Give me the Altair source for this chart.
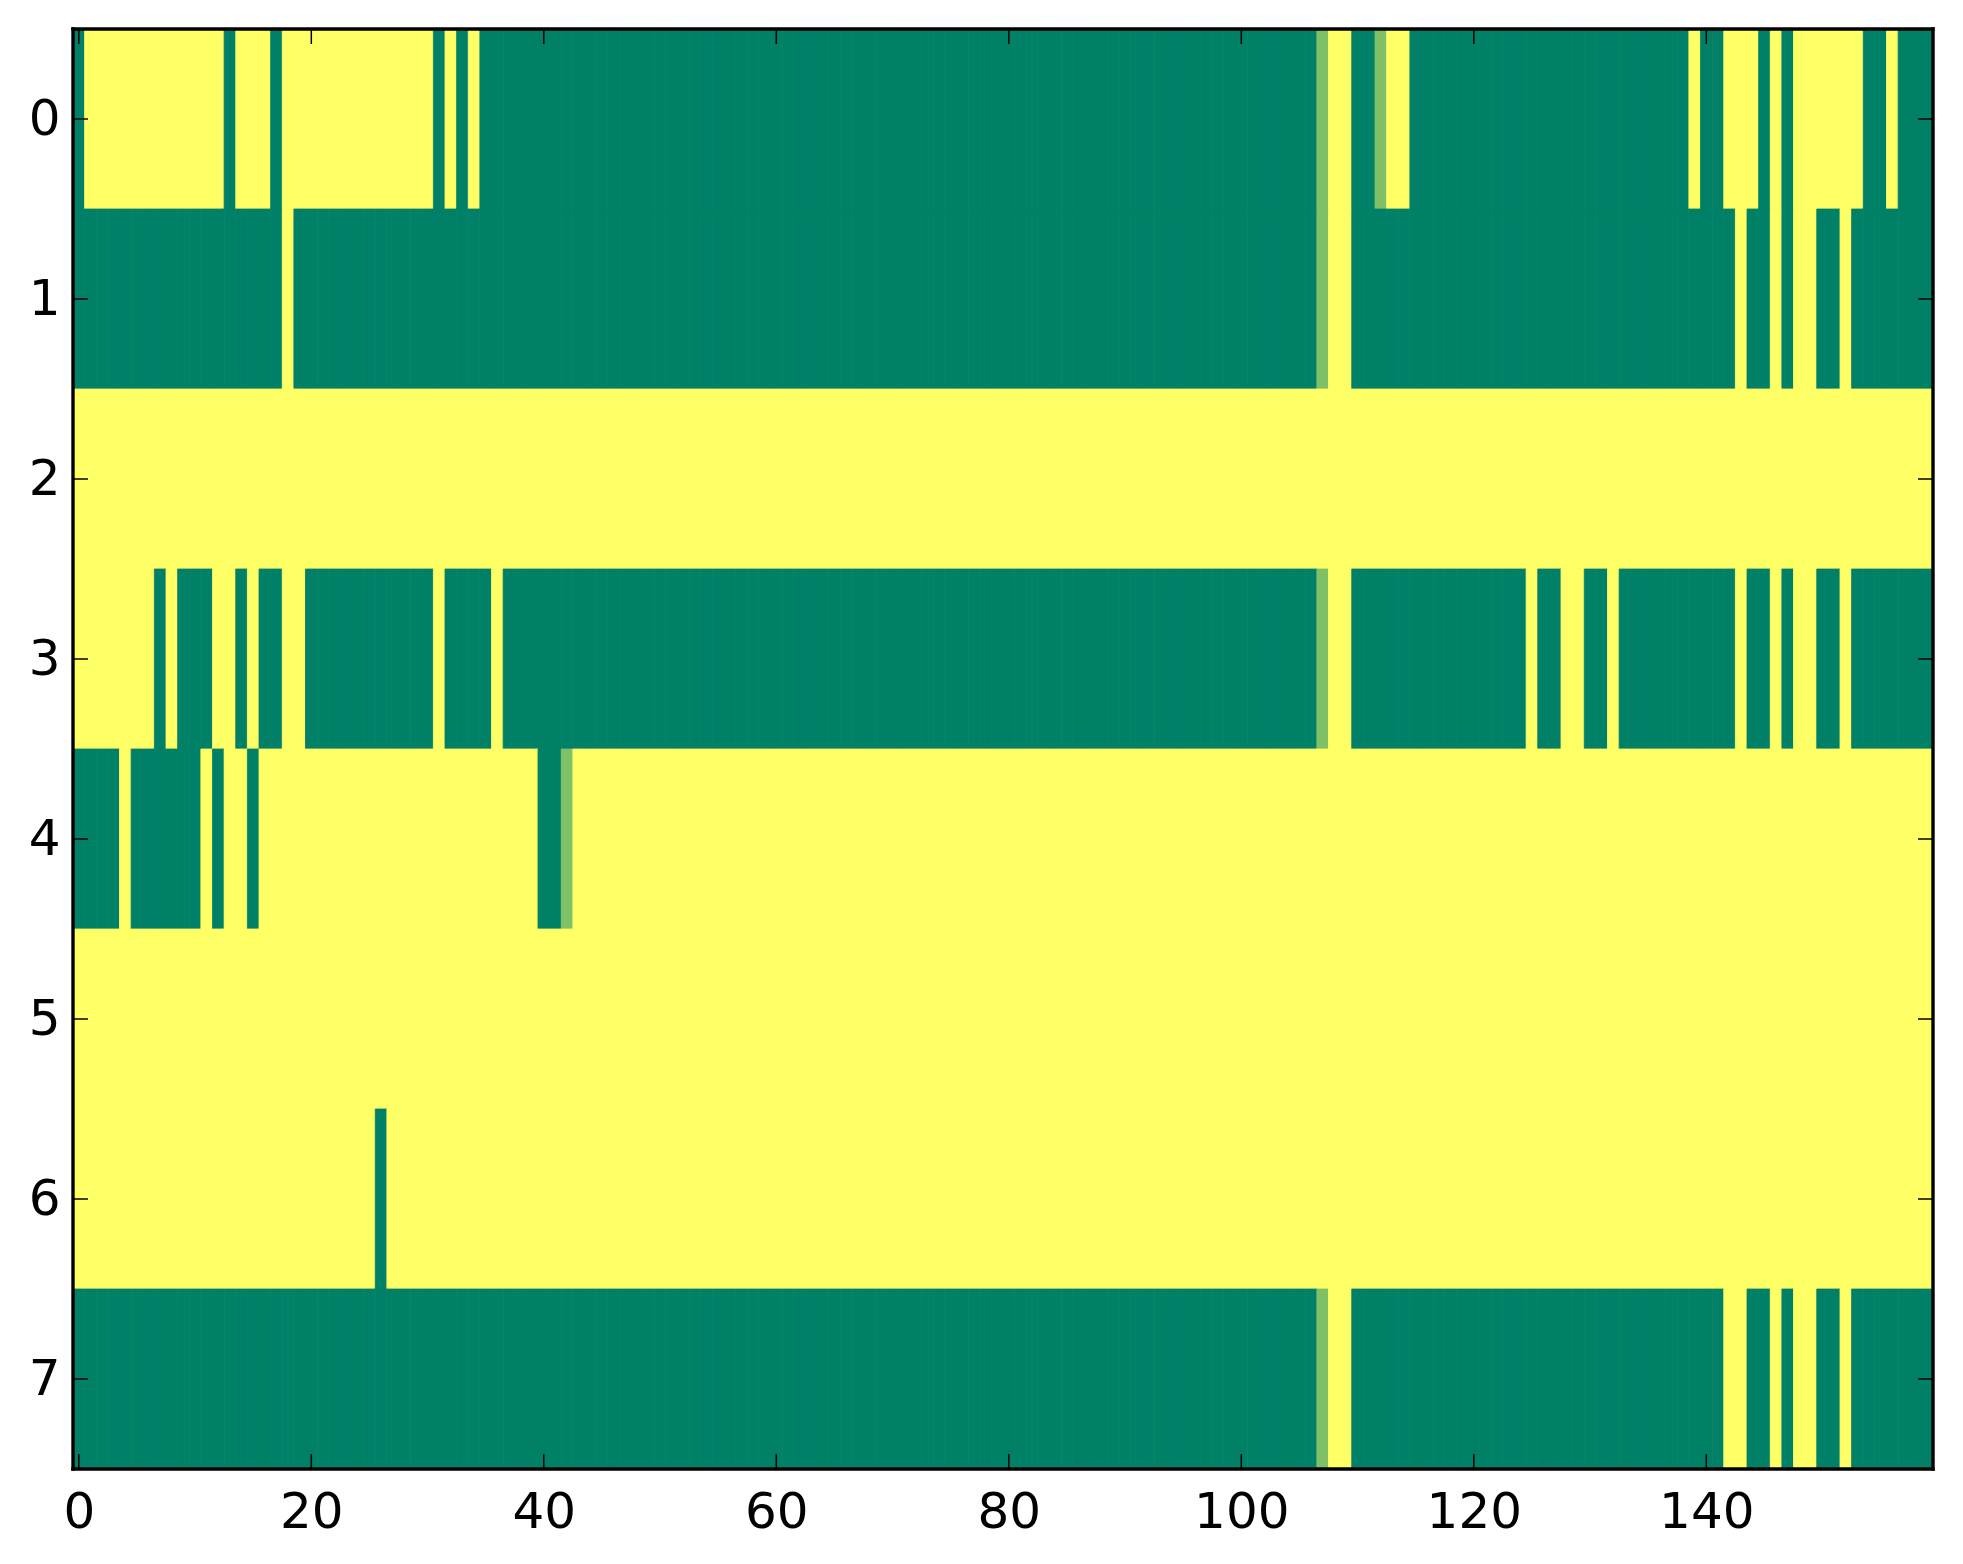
import altair as alt
import pandas as pd

# Cell values (0 = dark green, 0.5 = mid green, 1 = yellow)
ROW0 = [0, 1, 1, 1, 1, 1, 1, 1, 1, 1, 1, 1, 1, 0, 1, 1, 1, 0, 1, 1,
        1, 1, 1, 1, 1, 1, 1, 1, 1, 1, 1, 0, 1, 0, 1, 0, 0, 0, 0, 0,
        0, 0, 0, 0, 0, 0, 0, 0, 0, 0, 0, 0, 0, 0, 0, 0, 0, 0, 0, 0,
        0, 0, 0, 0, 0, 0, 0, 0, 0, 0, 0, 0, 0, 0, 0, 0, 0, 0, 0, 0,
        0, 0, 0, 0, 0, 0, 0, 0, 0, 0, 0, 0, 0, 0, 0, 0, 0, 0, 0, 0,
        0, 0, 0, 0, 0, 0, 0, 0.5, 1, 1, 0, 0, 0.5, 1, 1, 0, 0, 0, 0, 0,
        0, 0, 0, 0, 0, 0, 0, 0, 0, 0, 0, 0, 0, 0, 0, 0, 0, 0, 0, 1,
        0, 0, 1, 1, 1, 0, 1, 0, 1, 1, 1, 1, 1, 1, 0, 0, 1, 0, 0, 0]

ROW1 = [0, 0, 0, 0, 0, 0, 0, 0, 0, 0, 0, 0, 0, 0, 0, 0, 0, 0, 1, 0,
        0, 0, 0, 0, 0, 0, 0, 0, 0, 0, 0, 0, 0, 0, 0, 0, 0, 0, 0, 0,
        0, 0, 0, 0, 0, 0, 0, 0, 0, 0, 0, 0, 0, 0, 0, 0, 0, 0, 0, 0,
        0, 0, 0, 0, 0, 0, 0, 0, 0, 0, 0, 0, 0, 0, 0, 0, 0, 0, 0, 0,
        0, 0, 0, 0, 0, 0, 0, 0, 0, 0, 0, 0, 0, 0, 0, 0, 0, 0, 0, 0,
        0, 0, 0, 0, 0, 0, 0, 0.5, 1, 1, 0, 0, 0, 0, 0, 0, 0, 0, 0, 0,
        0, 0, 0, 0, 0, 0, 0, 0, 0, 0, 0, 0, 0, 0, 0, 0, 0, 0, 0, 0,
        0, 0, 0, 1, 0, 0, 1, 0, 1, 1, 0, 0, 1, 0, 0, 0, 0, 0, 0, 0]

ROW2 = [1, 1, 1, 1, 1, 1, 1, 1, 1, 1, 1, 1, 1, 1, 1, 1, 1, 1, 1, 1,
        1, 1, 1, 1, 1, 1, 1, 1, 1, 1, 1, 1, 1, 1, 1, 1, 1, 1, 1, 1,
        1, 1, 1, 1, 1, 1, 1, 1, 1, 1, 1, 1, 1, 1, 1, 1, 1, 1, 1, 1,
        1, 1, 1, 1, 1, 1, 1, 1, 1, 1, 1, 1, 1, 1, 1, 1, 1, 1, 1, 1,
        1, 1, 1, 1, 1, 1, 1, 1, 1, 1, 1, 1, 1, 1, 1, 1, 1, 1, 1, 1,
        1, 1, 1, 1, 1, 1, 1, 1, 1, 1, 1, 1, 1, 1, 1, 1, 1, 1, 1, 1,
        1, 1, 1, 1, 1, 1, 1, 1, 1, 1, 1, 1, 1, 1, 1, 1, 1, 1, 1, 1,
        1, 1, 1, 1, 1, 1, 1, 1, 1, 1, 1, 1, 1, 1, 1, 1, 1, 1, 1, 1]

ROW3 = [1, 1, 1, 1, 1, 1, 1, 0, 1, 0, 0, 0, 1, 1, 0, 1, 0, 0, 1, 1,
        0, 0, 0, 0, 0, 0, 0, 0, 0, 0, 0, 1, 0, 0, 0, 0, 1, 0, 0, 0,
        0, 0, 0, 0, 0, 0, 0, 0, 0, 0, 0, 0, 0, 0, 0, 0, 0, 0, 0, 0,
        0, 0, 0, 0, 0, 0, 0, 0, 0, 0, 0, 0, 0, 0, 0, 0, 0, 0, 0, 0,
        0, 0, 0, 0, 0, 0, 0, 0, 0, 0, 0, 0, 0, 0, 0, 0, 0, 0, 0, 0,
        0, 0, 0, 0, 0, 0, 0, 0.5, 1, 1, 0, 0, 0, 0, 0, 0, 0, 0, 0, 0,
        0, 0, 0, 0, 0, 1, 0, 0, 1, 1, 0, 0, 1, 0, 0, 0, 0, 0, 0, 0,
        0, 0, 0, 1, 0, 0, 1, 0, 1, 1, 0, 0, 1, 0, 0, 0, 0, 0, 0, 0]

ROW4 = [0, 0, 0, 0, 1, 0, 0, 0, 0, 0, 0, 1, 0, 1, 1, 0, 1, 1, 1, 1,
        1, 1, 1, 1, 1, 1, 1, 1, 1, 1, 1, 1, 1, 1, 1, 1, 1, 1, 1, 1,
        0, 0, 0.5, 1, 1, 1, 1, 1, 1, 1, 1, 1, 1, 1, 1, 1, 1, 1, 1, 1,
        1, 1, 1, 1, 1, 1, 1, 1, 1, 1, 1, 1, 1, 1, 1, 1, 1, 1, 1, 1,
        1, 1, 1, 1, 1, 1, 1, 1, 1, 1, 1, 1, 1, 1, 1, 1, 1, 1, 1, 1,
        1, 1, 1, 1, 1, 1, 1, 1, 1, 1, 1, 1, 1, 1, 1, 1, 1, 1, 1, 1,
        1, 1, 1, 1, 1, 1, 1, 1, 1, 1, 1, 1, 1, 1, 1, 1, 1, 1, 1, 1,
        1, 1, 1, 1, 1, 1, 1, 1, 1, 1, 1, 1, 1, 1, 1, 1, 1, 1, 1, 1]

ROW5 = [1, 1, 1, 1, 1, 1, 1, 1, 1, 1, 1, 1, 1, 1, 1, 1, 1, 1, 1, 1,
        1, 1, 1, 1, 1, 1, 1, 1, 1, 1, 1, 1, 1, 1, 1, 1, 1, 1, 1, 1,
        1, 1, 1, 1, 1, 1, 1, 1, 1, 1, 1, 1, 1, 1, 1, 1, 1, 1, 1, 1,
        1, 1, 1, 1, 1, 1, 1, 1, 1, 1, 1, 1, 1, 1, 1, 1, 1, 1, 1, 1,
        1, 1, 1, 1, 1, 1, 1, 1, 1, 1, 1, 1, 1, 1, 1, 1, 1, 1, 1, 1,
        1, 1, 1, 1, 1, 1, 1, 1, 1, 1, 1, 1, 1, 1, 1, 1, 1, 1, 1, 1,
        1, 1, 1, 1, 1, 1, 1, 1, 1, 1, 1, 1, 1, 1, 1, 1, 1, 1, 1, 1,
        1, 1, 1, 1, 1, 1, 1, 1, 1, 1, 1, 1, 1, 1, 1, 1, 1, 1, 1, 1]

ROW6 = [1, 1, 1, 1, 1, 1, 1, 1, 1, 1, 1, 1, 1, 1, 1, 1, 1, 1, 1, 1,
        1, 1, 1, 1, 1, 1, 0, 1, 1, 1, 1, 1, 1, 1, 1, 1, 1, 1, 1, 1,
        1, 1, 1, 1, 1, 1, 1, 1, 1, 1, 1, 1, 1, 1, 1, 1, 1, 1, 1, 1,
        1, 1, 1, 1, 1, 1, 1, 1, 1, 1, 1, 1, 1, 1, 1, 1, 1, 1, 1, 1,
        1, 1, 1, 1, 1, 1, 1, 1, 1, 1, 1, 1, 1, 1, 1, 1, 1, 1, 1, 1,
        1, 1, 1, 1, 1, 1, 1, 1, 1, 1, 1, 1, 1, 1, 1, 1, 1, 1, 1, 1,
        1, 1, 1, 1, 1, 1, 1, 1, 1, 1, 1, 1, 1, 1, 1, 1, 1, 1, 1, 1,
        1, 1, 1, 1, 1, 1, 1, 1, 1, 1, 1, 1, 1, 1, 1, 1, 1, 1, 1, 1]

ROW7 = [0, 0, 0, 0, 0, 0, 0, 0, 0, 0, 0, 0, 0, 0, 0, 0, 0, 0, 0, 0,
        0, 0, 0, 0, 0, 0, 0, 0, 0, 0, 0, 0, 0, 0, 0, 0, 0, 0, 0, 0,
        0, 0, 0, 0, 0, 0, 0, 0, 0, 0, 0, 0, 0, 0, 0, 0, 0, 0, 0, 0,
        0, 0, 0, 0, 0, 0, 0, 0, 0, 0, 0, 0, 0, 0, 0, 0, 0, 0, 0, 0,
        0, 0, 0, 0, 0, 0, 0, 0, 0, 0, 0, 0, 0, 0, 0, 0, 0, 0, 0, 0,
        0, 0, 0, 0, 0, 0, 0, 0.5, 1, 1, 0, 0, 0, 0, 0, 0, 0, 0, 0, 0,
        0, 0, 0, 0, 0, 0, 0, 0, 0, 0, 0, 0, 0, 0, 0, 0, 0, 0, 0, 0,
        0, 0, 1, 1, 0, 0, 1, 0, 1, 1, 0, 0, 1, 0, 0, 0, 0, 0, 0, 0]

ROWS = [ROW0, ROW1, ROW2, ROW3, ROW4, ROW5, ROW6, ROW7]
X_TICKS = [0, 20, 40, 60, 80, 100, 120, 140]
Y_TICKS = [0, 1, 2, 3, 4, 5, 6, 7]

records = []
for r, row in enumerate(ROWS):
    for c, v in enumerate(row):
        records.append({"x0": c - 0.5, "x1": c + 0.5,
                        "y0": r - 0.5, "y1": r + 0.5, "v": v})
cells = pd.DataFrame(records)

W, H = 1860, 1440
TICK = 15
FONT = "DejaVu Sans"
FS = 50
SPINE = 3.4

xscale = alt.Scale(domain=[-0.5, 159.5], nice=False, zero=False)
yscale = alt.Scale(domain=[-0.5, 7.5], nice=False, zero=False, reverse=True)
cscale = alt.Scale(domain=[0, 1], range=["#008066", "#ffff66"], interpolate="rgb")

xaxis = alt.Axis(values=X_TICKS, title=None, grid=False, domain=False,
                 tickSize=0, labelFont=FONT, labelFontSize=FS, labelColor="black",
                 labelPadding=18, labelFlush=False, labelOverlap=False)
yaxis = alt.Axis(values=Y_TICKS, title=None, grid=False, domain=False,
                 tickSize=0, labelFont=FONT, labelFontSize=FS, labelColor="black",
                 labelPadding=13, labelFlush=False, labelOverlap=False)

heat = alt.Chart(cells).mark_rect(strokeWidth=0.8).encode(
    x=alt.X("x0:Q", scale=xscale, axis=xaxis),
    x2="x1:Q",
    y=alt.Y("y0:Q", scale=yscale, axis=yaxis),
    y2="y1:Q",
    fill=alt.Fill("v:Q", scale=cscale, legend=None),
    stroke=alt.Stroke("v:Q", scale=cscale, legend=None),
)

xt = pd.DataFrame({"t": X_TICKS})
yt = pd.DataFrame({"t": Y_TICKS})

bottom_ticks = alt.Chart(xt).mark_rule(color="black", strokeWidth=1.5).encode(
    x=alt.X("t:Q", scale=xscale, axis=xaxis),
    y=alt.value(H), y2=alt.value(H - TICK))
top_ticks = alt.Chart(xt).mark_rule(color="black", strokeWidth=1.5).encode(
    x=alt.X("t:Q", scale=xscale, axis=xaxis),
    y=alt.value(0), y2=alt.value(TICK))
left_ticks = alt.Chart(yt).mark_rule(color="black", strokeWidth=1.5).encode(
    y=alt.Y("t:Q", scale=yscale, axis=yaxis),
    x=alt.value(0), x2=alt.value(TICK))
right_ticks = alt.Chart(yt).mark_rule(color="black", strokeWidth=1.5).encode(
    y=alt.Y("t:Q", scale=yscale, axis=yaxis),
    x=alt.value(W), x2=alt.value(W - TICK))

one = pd.DataFrame({"k": [0]})
half = SPINE / 2
spine_top = alt.Chart(one).mark_rule(color="black", strokeWidth=SPINE, strokeCap="square").encode(
    x=alt.value(0), x2=alt.value(W), y=alt.value(0))
spine_bottom = alt.Chart(one).mark_rule(color="black", strokeWidth=SPINE, strokeCap="square").encode(
    x=alt.value(0), x2=alt.value(W), y=alt.value(H))
spine_left = alt.Chart(one).mark_rule(color="black", strokeWidth=SPINE, strokeCap="square").encode(
    y=alt.value(0), y2=alt.value(H), x=alt.value(0))
spine_right = alt.Chart(one).mark_rule(color="black", strokeWidth=SPINE, strokeCap="square").encode(
    y=alt.value(0), y2=alt.value(H), x=alt.value(W))

chart = alt.layer(heat, bottom_ticks, top_ticks, left_ticks, right_ticks,
                  spine_top, spine_bottom, spine_left, spine_right).properties(
    width=W, height=H,
    autosize=alt.AutoSizeParams(type="none"),
    padding={"left": 65, "top": 21, "right": 14, "bottom": 78},
    background="white",
).configure_view(strokeWidth=0)

chart.save("out.html", embed_options={"renderer": "svg", "actions": False})
